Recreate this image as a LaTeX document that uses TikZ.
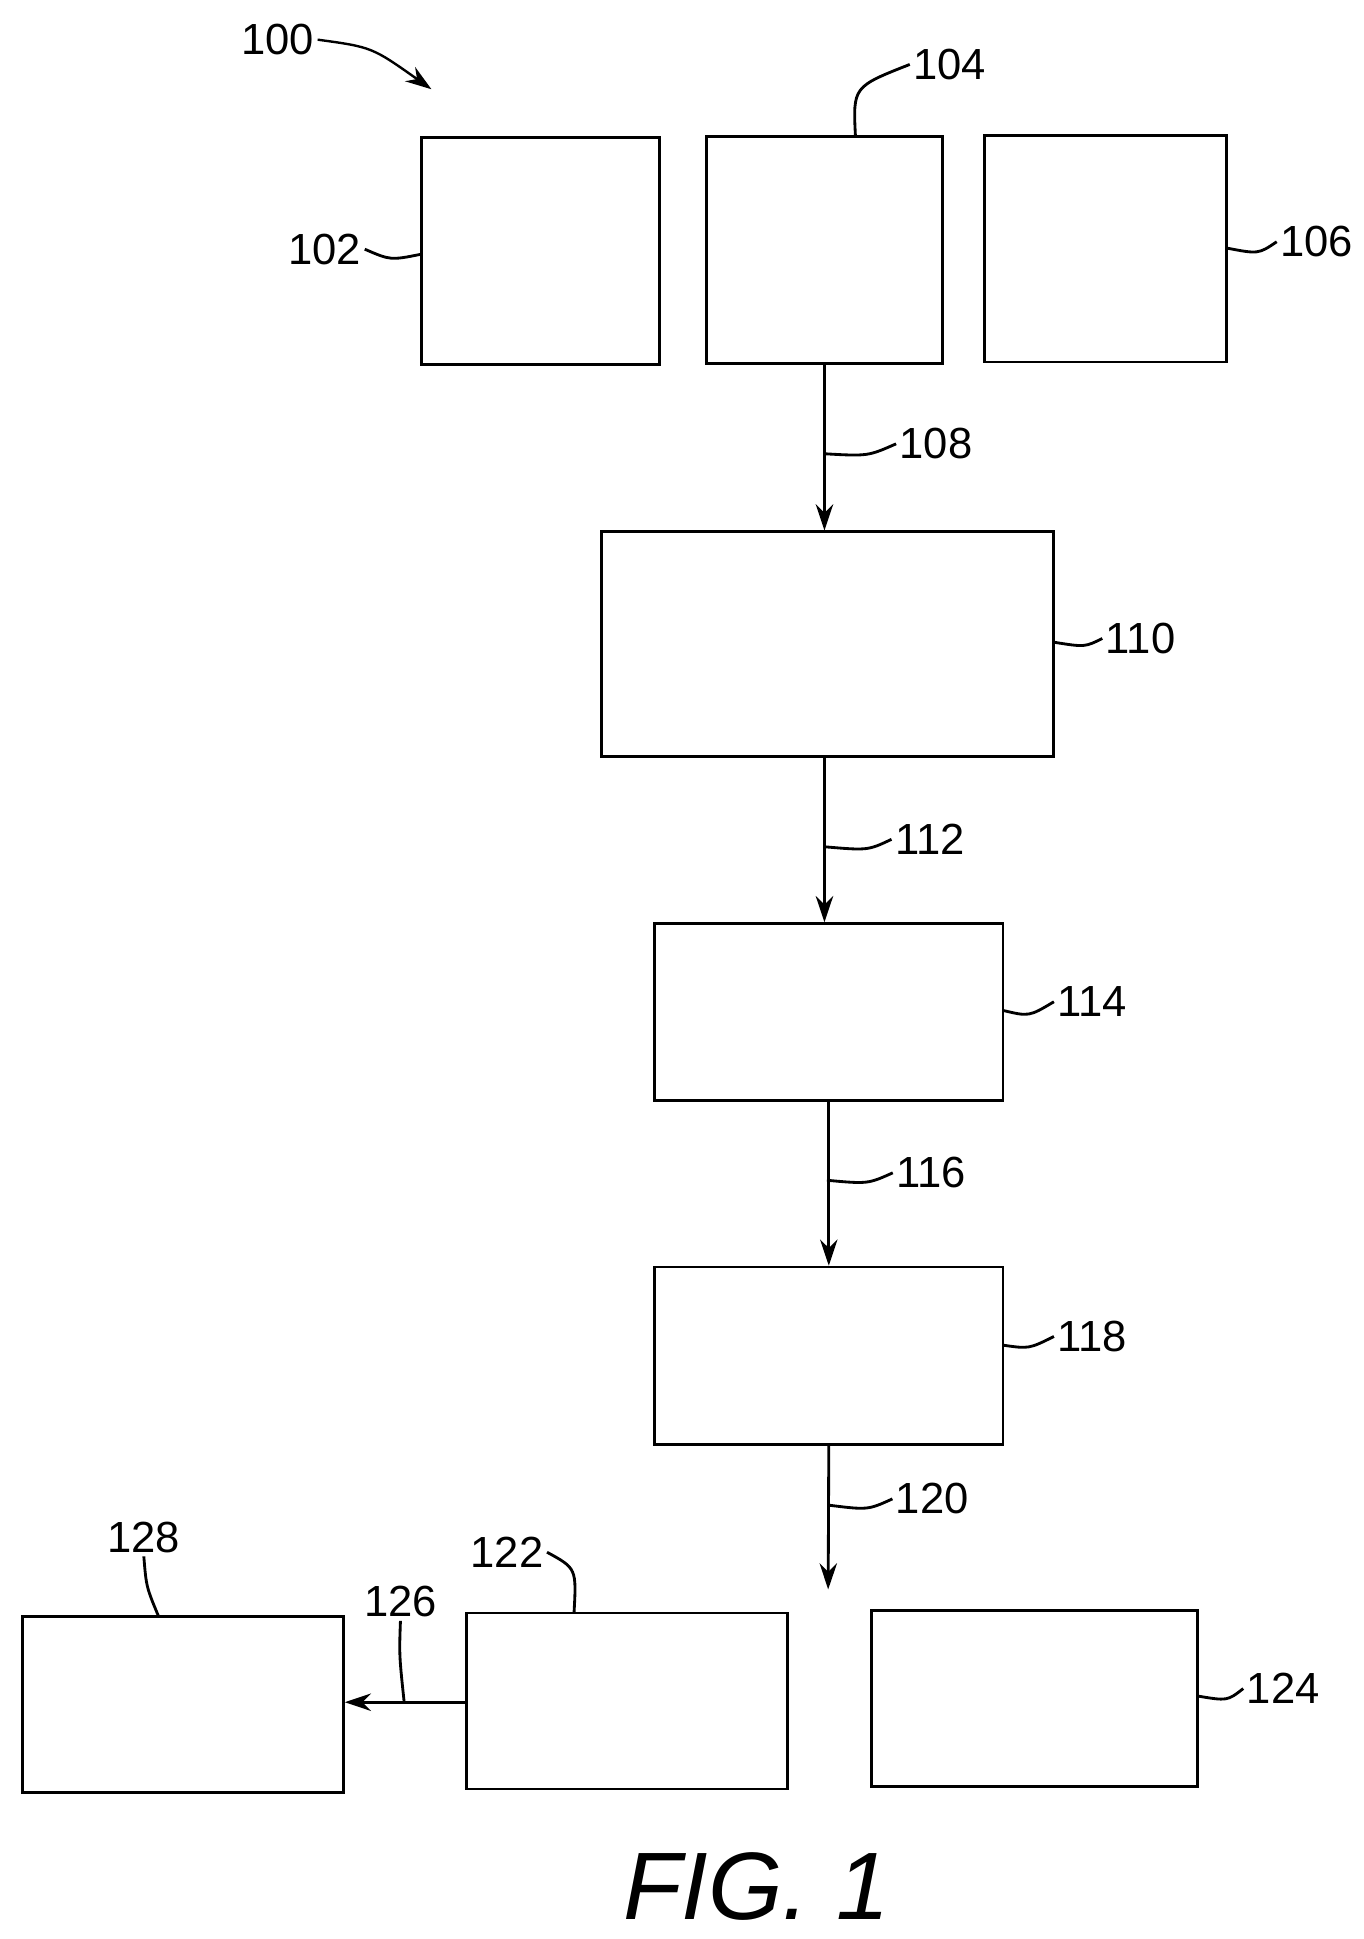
\documentclass[tikz,border=0pt]{standalone}
\usepackage{fontspec}
\setmainfont{Liberation Sans}
\usetikzlibrary{positioning,calc,arrows.meta}
\begin{document}
\begin{tikzpicture}[x=0.02cm,y=-0.02cm,line width=1.3pt,
    box/.style={rectangle,draw},
    lbl/.style={font=\fontsize{20}{24}\selectfont,inner sep=1pt},
    flow/.style={-{Stealth[length=12pt,width=8pt]}}]
    \useasboundingbox (0,0) rectangle (1100,1564);
    % Boxes
    \node (box102) [box,minimum width=3.84cm,minimum height=3.66cm] at (436,202.5) {};
    \node (box104) [box,minimum width=3.8cm,minimum height=3.66cm] at (665,201.5) {};
    \node (box106) [box,minimum width=3.9cm,minimum height=3.66cm] at (891.5,200.5) {};
    \node (box110) [box,minimum width=7.3cm,minimum height=3.62cm] at (667.5,519.5) {};
    \node (box114) [box,minimum width=5.62cm,minimum height=2.86cm] at (668.5,816.5) {};
    \node (box118) [box,minimum width=5.62cm,minimum height=2.86cm] at (668.5,1093.5) {};
    \node (box122) [box,minimum width=5.18cm,minimum height=2.84cm] at (505.5,1372) {};
    \node (box124) [box,minimum width=5.26cm,minimum height=2.84cm] at (834.5,1370) {};
    \node (box128) [box,minimum width=5.18cm,minimum height=2.84cm] at (147.5,1375) {};
    \coordinate (end120) at (668,1282);
    % Connectors
    \draw [flow] (box104.south) -- (box110.north -| box104.south);
    \draw [flow] (box110.south -| box104.south) -- (box114.north -| box104.south);
    \draw [flow] (box114.south) -- (box118.north);
    \draw [flow] (box118.south) -- (end120);
    \draw [flow] (box122.west |- 0,1373) -- (box128.east |- 0,1373);
    % Labels
    \node (l100) [lbl] at (224,32) {100};
    \node (l102) [lbl] at (262,201) {102};
    \node (l104) [lbl] at (766,52) {104};
    \node (l106) [lbl] at (1062,195) {106};
    \node (l108) [lbl] at (755,358) {108};
    \node (l110) [lbl] at (920,515) {110};
    \node (l112) [lbl] at (750,677) {112};
    \node (l114) [lbl] at (881,808) {114};
    \node (l116) [lbl] at (751,946) {116};
    \node (l118) [lbl] at (881,1078) {118};
    \node (l120) [lbl] at (752,1209) {120};
    \node (l122) [lbl] at (409,1252) {122};
    \node (l124) [lbl] at (1035,1362) {124};
    \node (l126) [lbl] at (323,1292) {126};
    \node (l128) [lbl] at (116,1240) {128};
    \node (fig) [font=\itshape\fontsize{44}{50}\selectfont] at (610,1522) {FIG. 1};
    % Leaders
    \draw [flow,line width=1.1pt] (l100.east) .. controls (300,38) .. (348,72);
    \draw (l102.east) .. controls (315,210) .. (340,205);
    \draw (690,110) .. controls (688,70) .. (l104.west);
    \draw (989,200) .. controls (1015,205) .. (l106.west);
    \draw (665,366) .. controls (700,368) .. (l108.west);
    \draw (850,518) .. controls (875,522) .. (l110.west);
    \draw (665,683) .. controls (700,686) .. (l112.west);
    \draw (809,815) .. controls (830,820) .. (l114.west);
    \draw (667,952) .. controls (700,955) .. (l116.west);
    \draw (809,1085) .. controls (830,1088) .. (l118.west);
    \draw (668,1214) .. controls (700,1218) .. (l120.west);
    \draw (463,1301) .. controls (465,1265) .. (l122.east);
    \draw (966,1368) .. controls (990,1372) .. (l124.west);
    \draw (326,1373) .. controls (322,1335) .. (l126.south);
    \draw (128,1304) .. controls (118,1280) .. (l128.south);
\end{tikzpicture}
\end{document}
